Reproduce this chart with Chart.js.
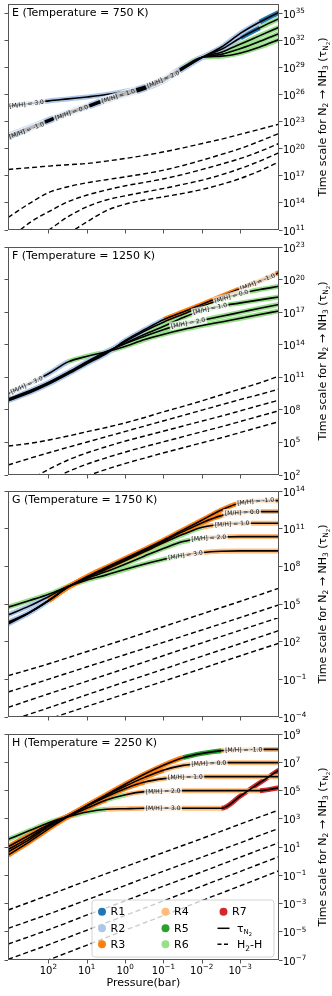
<!DOCTYPE html>
<html>
<head>
<meta charset="utf-8">
<script src="https://cdn.jsdelivr.net/npm/chart.js@4.4.1/dist/chart.umd.min.js"></script>
<style>
  html, body { margin: 0; padding: 0; background: #fff; }
  #wrap { position: relative; width: 332px; height: 996px; }
  canvas { position: absolute; left: 0; }
</style>
</head>
<body>
<div id="wrap">
  <canvas id="cE" width="332" height="240" style="top:0px"></canvas>
  <canvas id="cF" width="332" height="245" style="top:240px"></canvas>
  <canvas id="cG" width="332" height="242" style="top:485px"></canvas>
  <canvas id="cH" width="332" height="269" style="top:727px"></canvas>
</div>
<script>
// pressure grid, log10(P / bar); the axis runs from high to low pressure
const logPressure = [3.06, 2.5, 2, 1.5, 1, 0.5, 0, -0.5, -1, -1.5, -2, -2.5, -3, -3.5, -4];
const logPressureDec = [3.06, 2, 1, 0, -1, -2, -3, -4];
const metallicities = ['-1.0', '0.0', '1.0', '2.0', '3.0'];
const reactionNames = ['R1', 'R2', 'R3', 'R4', 'R5', 'R6', 'R7'];
const xTickExp = [2, 1, 0, -1, -2, -3];

// ---- E, 750 K : log10 tau_N2, one row per [M/H] (-1, 0, 1, 2, 3)
const tauE = [
  [21.24, 22.16, 23.01, 23.82, 24.55, 25.29, 25.95, 26.58, 27.50, 28.80, 30.10, 31.24, 32.77, 34.01, 35.07],
  [21.31, 22.23, 23.08, 23.89, 24.62, 25.36, 26.02, 26.65, 27.57, 28.85, 30.10, 30.99, 32.27, 33.38, 34.38],
  [21.38, 22.30, 23.15, 23.96, 24.69, 25.43, 26.09, 26.72, 27.64, 28.90, 30.10, 30.67, 31.57, 32.50, 33.42],
  [21.46, 22.38, 23.23, 24.04, 24.77, 25.51, 26.17, 26.80, 27.72, 28.95, 30.10, 30.43, 31.08, 31.87, 32.72],
  [24.69, 24.99, 25.28, 25.50, 25.72, 25.98, 26.35, 26.90, 27.75, 29.04, 30.10, 30.23, 30.59, 31.25, 32.06]
];
// dominant reaction (1..7) along each curve
const reactE = [
  [1,2,2,2,2,2,2,2,2,2,2,2,2,1,1],
  [2,2,2,2,2,2,2,2,2,2,2,2,1,6,6],
  [2,2,2,2,2,2,2,2,2,2,6,6,6,6,6],
  [2,2,2,2,2,2,2,2,2,2,6,6,6,6,6],
  [2,2,2,2,2,2,2,2,2,6,6,6,6,6,6]
];
// log10 of H2-H timescale
const h2hE = [
  [17.70, 17.89, 18.07, 18.22, 18.36, 18.62, 18.92, 19.25, 19.65, 20.09, 20.57, 21.05, 21.60, 22.15, 22.71],
  [12.40, 13.95, 15.16, 15.79, 16.23, 16.56, 16.89, 17.22, 17.63, 18.14, 18.73, 19.36, 20.02, 20.83, 21.68],
  [9.90, 11.81, 13.03, 14.13, 14.87, 15.42, 15.90, 16.27, 16.67, 17.15, 17.70, 18.29, 18.92, 19.69, 20.57],
  [8.06, 9.71, 11.00, 12.48, 13.58, 14.32, 14.79, 15.20, 15.60, 16.05, 16.52, 17.11, 17.81, 18.62, 19.54],
  [6.22, 7.69, 9.16, 10.56, 11.92, 13.14, 13.87, 14.32, 14.68, 15.05, 15.49, 16.05, 16.71, 17.55, 18.55]
];
const yTickE = [11, 14, 17, 20, 23, 26, 29, 32, 35];

// ---- F, 1250 K
const tauF = [
  [8.84, 9.57, 10.37, 11.29, 12.27, 13.19, 14.42, 15.40, 16.32, 17.02, 17.73, 18.46, 19.17, 19.87, 20.64],
  [8.90, 9.63, 10.43, 11.35, 12.33, 13.25, 14.32, 15.27, 16.10, 16.81, 17.54, 18.19, 18.71, 19.08, 19.38],
  [8.96, 9.70, 10.49, 11.41, 12.39, 13.31, 14.17, 14.97, 15.70, 16.50, 17.18, 17.57, 17.85, 18.13, 18.40],
  [9.02, 9.76, 10.55, 11.47, 12.45, 13.37, 14.11, 14.78, 15.40, 15.92, 16.26, 16.62, 16.99, 17.36, 17.70],
  [9.51, 10.43, 11.35, 12.42, 12.94, 13.34, 13.86, 14.48, 14.97, 15.40, 15.77, 16.10, 16.44, 16.78, 17.11]
];
const reactF = [
  [2,2,2,2,2,2,2,2,3,3,3,3,3,3,3],
  [2,2,2,2,2,2,2,6,6,6,6,6,6,6,6],
  [2,2,2,2,2,2,6,6,6,6,6,6,6,6,6],
  [2,2,2,2,2,2,6,6,6,6,6,6,6,6,6],
  [2,2,2,6,6,6,6,6,6,6,6,6,6,6,6]
];
const h2hF = [
  [4.67, 4.91, 5.22, 5.59, 5.99, 6.38, 6.81, 7.30, 7.83, 8.32, 8.84, 9.39, 9.94, 10.49, 11.11],
  [2.92, 3.53, 4.05, 4.55, 5.04, 5.53, 6.02, 6.51, 7.00, 7.49, 7.98, 8.47, 8.96, 9.42, 9.91],
  [0.31, 1.54, 2.52, 3.38, 4.05, 4.61, 5.13, 5.59, 6.05, 6.51, 6.97, 7.43, 7.92, 8.41, 8.90],
  [-0.60, 0.47, 1.48, 2.31, 3.01, 3.59, 4.12, 4.61, 5.07, 5.53, 5.99, 6.45, 6.94, 7.43, 7.92],
  [-1.80, -0.60, 0.31, 1.17, 1.91, 2.52, 3.07, 3.56, 4.05, 4.51, 4.97, 5.43, 5.92, 6.42, 6.91]
];
const yTickF = [2, 5, 8, 11, 14, 17, 20, 23];

// ---- G, 1750 K
const tauG = [
  [3.40, 4.32, 5.28, 6.34, 7.19, 7.93, 8.64, 9.36, 10.10, 10.90, 11.69, 12.49, 13.07, 13.23, 13.23],
  [3.48, 4.32, 5.28, 6.34, 7.13, 7.85, 8.57, 9.28, 10.02, 10.77, 11.48, 12.04, 12.30, 12.36, 12.36],
  [3.56, 4.35, 5.30, 6.34, 7.11, 7.77, 8.46, 9.17, 9.89, 10.55, 11.11, 11.35, 11.43, 11.43, 11.43],
  [4.14, 4.85, 5.60, 6.39, 7.03, 7.58, 8.19, 8.83, 9.44, 9.97, 10.24, 10.34, 10.37, 10.37, 10.37],
  [4.75, 5.28, 5.78, 6.39, 6.92, 7.32, 7.77, 8.19, 8.57, 8.88, 9.10, 9.20, 9.23, 9.23, 9.23]
];
const reactG = [
  [2,2,3,3,3,3,3,3,3,3,3,3,4,4,4],
  [2,2,3,3,3,3,3,3,3,3,3,4,4,4,4],
  [2,2,3,3,6,6,6,6,6,6,4,4,4,4,4],
  [2,2,6,6,6,6,6,6,6,6,4,4,4,4,4],
  [6,6,6,6,6,6,6,6,6,4,4,4,4,4,4]
];
const h2hG = [
  [-0.71, 0.24, 1.22, 2.20, 3.21, 4.22, 5.22, 6.26],
  [-2.01, -0.98, 0.00, 0.98, 1.96, 2.94, 3.93, 4.93],
  [-3.23, -2.15, -1.14, -0.13, 0.90, 1.91, 2.92, 3.93],
  [-4.34, -3.26, -2.22, -1.19, -0.18, 0.85, 1.86, 2.89],
  [-5.25, -4.16, -3.15, -2.15, -1.14, -0.13, 0.88, 1.88]
];
const yTickG = [-4, -1, 2, 5, 8, 11, 14];

// ---- H, 2250 K
const tauH = [
  [0.43, 1.38, 2.30, 3.15, 3.95, 4.70, 5.46, 6.17, 6.81, 7.32, 7.63, 7.82, 7.89, 7.91, 7.91],
  [0.65, 1.54, 2.44, 3.19, 3.95, 4.66, 5.32, 5.93, 6.45, 6.78, 6.92, 6.97, 6.97, 6.97, 6.97],
  [0.83, 1.68, 2.53, 3.19, 3.90, 4.56, 5.15, 5.60, 5.84, 5.96, 5.98, 5.98, 5.98, 5.98, 5.98],
  [1.02, 1.85, 2.60, 3.15, 3.76, 4.33, 4.70, 4.92, 4.96, 4.99, 4.99, 4.99, 4.99, 4.99, 5.20],
  [1.54, 2.16, 2.72, 3.15, 3.48, 3.67, 3.71, 3.74, 3.74, 3.74, 3.74, 3.74, 4.63, 5.55, 6.45]
];
const reactH = [
  [3,3,3,3,3,3,3,3,3,5,5,4,4,4,4],
  [3,3,3,3,3,3,3,3,4,4,4,4,4,4,4],
  [3,3,3,3,3,3,3,4,4,4,4,4,4,4,4],
  [3,3,3,3,3,6,4,4,4,4,4,4,4,7,7],
  [6,6,6,6,6,4,4,4,4,4,4,7,7,7,7]
];
const h2hH = [
  [-3.46, -2.40, -1.38, -0.39, 0.62, 1.61, 2.63, 3.62],
  [-4.76, -3.74, -2.73, -1.71, -0.70, 0.29, 1.31, 2.32],
  [-5.87, -4.85, -3.81, -2.80, -1.76, -0.75, 0.29, 1.31],
  [-6.95, -5.91, -4.88, -3.84, -2.80, -1.76, -0.72, 0.32],
  [-8.04, -6.98, -5.94, -4.88, -3.84, -2.78, -1.74, -0.68]
];
const yTickH = [-7, -5, -3, -1, 1, 3, 5, 7, 9];

// ---- styling
const FONT = '"DejaVu Sans", sans-serif';
const reactionColors = ['#1f77b4', '#aec7e8', '#ff7f0e', '#ffbb78', '#2ca02c', '#98df8a', '#d62728'];

const panels = [
  { id: 'cE', title: 'E (Temperature = 750 K)', tau: tauE, react: reactE, h2h: h2hE, h2hP: logPressure,
    yRange: [11, 36], yTicks: yTickE, labelAt: [2.58, 1.41, 0.19, -0.98, 2.58], padTop: 4, xh: 10, last: false },
  { id: 'cF', title: 'F (Temperature = 1250 K)', tau: tauF, react: reactF, h2h: h2hF, h2hP: logPressure,
    yRange: [2, 23], yTicks: yTickF, labelAt: [-3.44, -2.76, -2.2, -1.63, 2.58], padTop: 7, xh: 10, last: false },
  { id: 'cG', title: 'G (Temperature = 1750 K)', tau: tauG, react: reactG, h2h: h2hG, h2hP: logPressureDec,
    yRange: [-4, 14], yTicks: yTickG, labelAt: [-3.39, -3.04, -2.78, -2.17, -1.56], padTop: 6, xh: 10, last: false },
  { id: 'cH', title: 'H (Temperature = 2250 K)', tau: tauH, react: reactH, h2h: h2hH, h2hP: logPressureDec,
    yRange: [-7, 9], yTicks: yTickH, labelAt: [-3.08, -2.17, -1.56, -0.98, -0.98], padTop: 7, xh: 36, last: true }
];

function drawPieces(ctx, pieces, x, y) {
  pieces.forEach(p => {
    ctx.font = p.size + 'px ' + FONT;
    ctx.fillText(p.t, x, y + (p.dy || 0));
    x += ctx.measureText(p.t).width;
  });
  return x;
}
function piecesWidth(ctx, pieces) {
  let w = 0;
  pieces.forEach(p => { ctx.font = p.size + 'px ' + FONT; w += ctx.measureText(p.t).width; });
  return w;
}
// "10" with a raised exponent, like matplotlib's log tick labels
const expPieces = v => {
  const e = Math.round(Math.log10(v));
  return [{ t: '10', size: 10 }, { t: String(e).replace('-', '\u2212'), size: 7.2, dy: -4.6 }];
};

const framePlugin = {
  id: 'frame',
  afterDraw(chart, args, opts) {
    const { ctx, chartArea: a } = chart;
    ctx.save();
    ctx.strokeStyle = '#555';
    ctx.lineWidth = 1;
    ctx.strokeRect(a.left + 0.5, a.top + 0.5, a.right - a.left - 1, a.bottom - a.top - 1);
    ctx.fillStyle = '#000';
    // tick labels from the scales
    ctx.textBaseline = 'alphabetic';
    const ys = chart.scales.y;
    ys.ticks.forEach(t => drawPieces(ctx, expPieces(t.value), a.right + 4, ys.getPixelForValue(t.value) + 4.6));
    if (opts.showX) {
      const xs = chart.scales.x;
      xs.ticks.forEach(t => {
        const pieces = expPieces(t.value);
        drawPieces(ctx, pieces, xs.getPixelForValue(t.value) - piecesWidth(ctx, pieces) / 2 - 0.5, a.bottom + 14);
      });
    }
    // panel title
    ctx.font = '11px ' + FONT;
    ctx.textBaseline = 'middle';
    ctx.fillText(opts.title, a.left + 4, a.top + 9.5);
    // right-hand axis title
    const pieces = [
      { t: 'Time scale for N', size: 11 }, { t: '2', size: 7.5, dy: 2.5 },
      { t: ' \u2192 NH', size: 11 }, { t: '3', size: 7.5, dy: 2.5 },
      { t: ' (\u03c4', size: 11 }, { t: 'N', size: 7.5, dy: 2.5 }, { t: '2', size: 5.5, dy: 4.2 },
      { t: ')', size: 11 }
    ];
    ctx.translate(325.5, (a.top + a.bottom) / 2);
    ctx.rotate(-Math.PI / 2);
    ctx.textBaseline = 'alphabetic';
    drawPieces(ctx, pieces, -piecesWidth(ctx, pieces) / 2, 0);
    ctx.restore();
  }
};

const mhLabelPlugin = {
  id: 'mhLabels',
  afterDatasetsDraw(chart, args, opts) {
    const { ctx } = chart;
    const xs = chart.scales.x;
    opts.at.forEach((lp, m) => {
      const pts = chart.getDatasetMeta(5 + m).data;
      const px = xs.getPixelForValue(Math.pow(10, lp));
      let i = 0;
      while (i < pts.length - 2 && pts[i + 1].x < px) i++;
      const a = pts[i], b = pts[i + 1];
      const t = (px - a.x) / (b.x - a.x);
      const py = a.y + t * (b.y - a.y);
      const text = '[M/H] = ' + metallicities[m];
      ctx.save();
      ctx.translate(px, py);
      ctx.rotate(Math.atan2(b.y - a.y, b.x - a.x));
      ctx.font = '6px ' + FONT;
      const w = ctx.measureText(text).width;
      ctx.fillStyle = 'rgba(255,255,255,0.72)';
      ctx.fillRect(-w / 2 - 1.5, -4, w + 3, 8);
      ctx.fillStyle = '#111';
      ctx.textAlign = 'center';
      ctx.textBaseline = 'middle';
      ctx.fillText(text, 0, 0.5);
      ctx.restore();
    });
  }
};

const legendPlugin = {
  id: 'reactLegend',
  afterDraw(chart, args, opts) {
    if (!opts.show) return;
    const { ctx, chartArea: a } = chart;
    const bw = 182, bh = 57;
    const bx = a.right - 5 - bw, by = a.bottom - 3 - bh;
    ctx.save();
    ctx.beginPath();
    ctx.roundRect(bx, by, bw, bh, 3);
    ctx.fillStyle = 'rgba(255,255,255,0.8)';
    ctx.fill();
    ctx.strokeStyle = '#d4d4d4';
    ctx.lineWidth = 1;
    ctx.stroke();
    const colX = [bx + 10, bx + 73.5, bx + 131.5];
    const rowY = [by + 11.7, by + 28.3, by + 44.2];
    ctx.textBaseline = 'middle';
    ctx.fillStyle = '#000';
    reactionNames.forEach((name, k) => {
      const cx = colX[Math.floor(k / 3)], cy = rowY[k % 3];
      ctx.beginPath();
      ctx.arc(cx, cy, 4, 0, Math.PI * 2);
      ctx.fillStyle = reactionColors[k];
      ctx.fill();
      ctx.fillStyle = '#000';
      ctx.font = '11px ' + FONT;
      ctx.fillText(name, cx + 8.5, cy + 0.5);
    });
    // tau_N2 and H2-H line samples
    const lx = colX[2];
    ctx.strokeStyle = '#000';
    ctx.lineWidth = 1.5;
    ctx.beginPath(); ctx.moveTo(lx - 6, rowY[1]); ctx.lineTo(lx + 6, rowY[1]); ctx.stroke();
    ctx.setLineDash([4, 2.5]);
    ctx.beginPath(); ctx.moveTo(lx - 6, rowY[2]); ctx.lineTo(lx + 6, rowY[2]); ctx.stroke();
    ctx.setLineDash([]);
    ctx.textBaseline = 'alphabetic';
    drawPieces(ctx, [{ t: '\u03c4', size: 11 }, { t: 'N', size: 7, dy: 2.5 }, { t: '2', size: 5, dy: 4 }], lx + 13.5, rowY[1] + 3.5);
    drawPieces(ctx, [{ t: 'H', size: 11 }, { t: '2', size: 7.5, dy: 2.5 }, { t: '-H', size: 11 }], lx + 13.5, rowY[2] + 4);
    ctx.restore();
  }
};

function buildDatasets(p) {
  const pts = (xs, ys) => ys.map((v, i) => ({ x: Math.pow(10, xs[i]), y: Math.pow(10, v) }));
  const common = { pointRadius: 0, fill: false, clip: 0, cubicInterpolationMode: 'monotone', borderJoinStyle: 'round' };
  const out = [];
  p.tau.forEach((row, m) => {
    const codes = p.react[m];
    out.push(Object.assign({}, common, {
      data: pts(logPressure, row), borderWidth: 5, order: 3,
      borderColor: reactionColors[codes[0] - 1],
      segment: { borderColor: c => reactionColors[codes[c.p0DataIndex] - 1] }
    }));
  });
  p.tau.forEach(row => out.push(Object.assign({}, common, {
    data: pts(logPressure, row), borderWidth: 1.6, borderColor: '#000', order: 2
  })));
  p.h2h.forEach(row => out.push(Object.assign({}, common, {
    data: pts(p.h2hP, row), borderWidth: 1.4, borderColor: '#000', borderDash: [5, 3], order: 1
  })));
  return out;
}

function yScale(p, side) {
  return {
    type: 'logarithmic', position: side,
    min: Math.pow(10, p.yRange[0]), max: Math.pow(10, p.yRange[1]),
    afterBuildTicks: s => { s.ticks = p.yTicks.map(e => ({ value: Math.pow(10, e) })); },
    ticks: { display: false, autoSkip: false },
    grid: { drawOnChartArea: false, drawTicks: true, tickLength: 3.5, color: '#555' },
    border: { display: false },
    afterFit: s => { s.width = side === 'right' ? 53 : 8; }
  };
}

panels.forEach(p => {
  new Chart(document.getElementById(p.id), {
    type: 'line',
    data: { datasets: buildDatasets(p) },
    options: {
      responsive: false, animation: false, events: [],
      layout: { padding: { top: p.padTop, left: 0, right: 0, bottom: 0 } },
      plugins: {
        legend: { display: false }, tooltip: { enabled: false },
        frame: { title: p.title, showX: p.last },
        mhLabels: { at: p.labelAt },
        reactLegend: { show: p.last }
      },
      scales: {
        x: {
          type: 'logarithmic', reverse: true, min: 1e-4, max: Math.pow(10, 3.065),
          afterBuildTicks: s => { s.ticks = xTickExp.map(e => ({ value: Math.pow(10, e) })); },
          ticks: { display: false, autoSkip: false },
          grid: { drawOnChartArea: false, drawTicks: true, tickLength: 3.5, color: '#555' },
          border: { display: false },
          title: { display: p.last, text: 'Pressure(bar)', color: '#000',
                   font: { family: FONT, size: 11 }, padding: { top: 0, bottom: 6 } },
          afterFit: s => { s.height = p.xh; }
        },
        yl: yScale(p, 'left'),
        y: yScale(p, 'right')
      }
    },
    plugins: [framePlugin, mhLabelPlugin, legendPlugin]
  });
});
</script>
</body>
</html>
